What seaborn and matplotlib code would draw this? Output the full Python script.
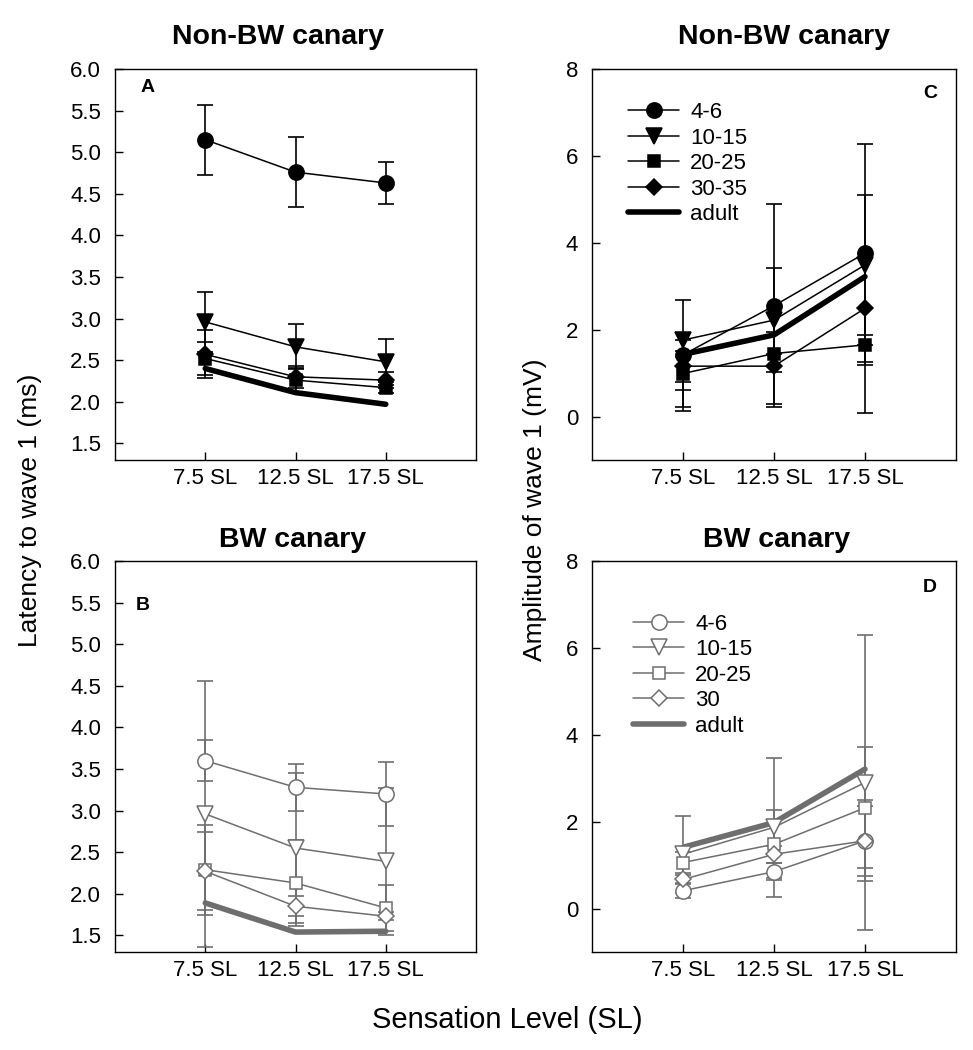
import matplotlib
matplotlib.use("Agg")
import matplotlib.pyplot as plt
import seaborn as sns
import numpy as np

# x positions (sensation level, dB SL)
levels = [7.5, 12.5, 17.5]
level_labels = ["7.5 SL", "12.5 SL", "17.5 SL"]
groups = ["4-6", "10-15", "20-25", "30-35", "adult"]
groups_bw = ["4-6", "10-15", "20-25", "30", "adult"]

# A: latency, non-BW canary (ms)
lat_nonbw = {
    "4-6": [5.15, 4.76, 4.63],
    "10-15": [2.96, 2.66, 2.48],
    "20-25": [2.52, 2.26, 2.17],
    "30-35": [2.57, 2.30, 2.26],
    "adult": [2.40, 2.11, 1.97],
}
lat_nonbw_lo = {"4-6": [0.43, 0.42, 0.25], "10-15": [0.36, 0.27, 0.28],
                "20-25": [0.20, 0.14, 0.07], "30-35": [0.29, 0.13, 0.10]}
lat_nonbw_hi = {"4-6": [0.42, 0.42, 0.25], "10-15": [0.36, 0.27, 0.28],
                "20-25": [0.20, 0.14, 0.07], "30-35": [0.29, 0.13, 0.10]}

# B: latency, BW canary (ms)
lat_bw = {
    "4-6": [3.60, 3.28, 3.20],
    "10-15": [2.96, 2.55, 2.39],
    "20-25": [2.29, 2.13, 1.83],
    "30": [2.27, 1.85, 1.73],
    "adult": [1.89, 1.54, 1.55],
}
lat_bw_lo = {"4-6": [0.25, 0.28, 0.38], "10-15": [1.60, 0.90, 0.88],
             "20-25": [0.54, 0.52, 0.28], "30": [0.47, 0.12, 0.05]}
lat_bw_hi = {"4-6": [0.25, 0.28, 0.38], "10-15": [1.60, 0.90, 0.88],
             "20-25": [0.54, 0.52, 0.28], "30": [0.47, 0.12, 0.05]}

# C: amplitude, non-BW canary (mV)
amp_nonbw = {
    "4-6": [1.42, 2.55, 3.76],
    "10-15": [1.76, 2.22, 3.49],
    "20-25": [0.99, 1.45, 1.65],
    "30-35": [1.16, 1.16, 2.49],
    "adult": [1.43, 1.88, 3.22],
}
amp_nonbw_lo = {"4-6": [1.29, 2.32, 2.51], "10-15": [1.53, 1.19, 1.61],
                "20-25": [0.39, 0.0, 0.46], "30-35": [0.36, 0.86, 2.40]}
amp_nonbw_hi = {"4-6": [1.26, 2.34, 2.51], "10-15": [0.0, 1.19, 1.61],
                "20-25": [0.39, 0.50, 0.0], "30-35": [0.36, 0.0, 0.0]}

# D: amplitude, BW canary (mV)
amp_bw = {
    "4-6": [0.41, 0.85, 1.56],
    "10-15": [1.25, 1.87, 2.90],
    "20-25": [1.06, 1.48, 2.32],
    "30": [0.67, 1.25, 1.56],
    "adult": [1.41, 1.98, 3.21],
}
amp_bw_lo = {"4-6": [0.17, 0.20, 0.80], "10-15": [0.88, 1.60, 3.40],
             "20-25": [0.24, 0.78, 1.39], "30": [0.10, 0.20, 0.93]}
amp_bw_hi = {"4-6": [0.17, 0.20, 0.80], "10-15": [0.88, 1.60, 3.40],
             "20-25": [0.24, 0.78, 1.39], "30": [0.10, 0.20, 0.93]}

sns.set_style("ticks")
plt.rcParams['font.family'] = ['Liberation Sans', 'DejaVu Sans']
plt.rcParams.update({"text.color": "black", "axes.labelcolor": "black",
                     "xtick.color": "black", "ytick.color": "black"})

markers = ["o", "v", "s", "D", None]
msizes = [11, 11, 9, 8, 0]
GRAY = "#6e6e6e"


def draw_panel(ax, data, lo, hi, names, color, filled, legend_pos=None):
    for name in names:
        if name != "adult":
            ax.errorbar(levels, data[name], yerr=[lo[name], hi[name]], fmt="none",
                        ecolor=color, elinewidth=1.2, capsize=5.5, capthick=1.2, zorder=2)
    for name, mk, ms in zip(names, markers, msizes):
        if name == "adult":
            sns.lineplot(x=levels, y=data[name], ax=ax, color=color, linewidth=4,
                         label=name, zorder=3)
        else:
            sns.lineplot(x=levels, y=data[name], ax=ax, color=color, linewidth=1.1,
                         marker=mk, markersize=ms,
                         markerfacecolor=color if filled else "white",
                         markeredgecolor=color, markeredgewidth=1.1,
                         label=name, zorder=4)
    if legend_pos is None:
        if ax.get_legend() is not None:
            ax.get_legend().remove()
    else:
        h, l = ax.get_legend_handles_labels()
        ax.legend(h, l, loc="upper left", bbox_to_anchor=legend_pos, frameon=False,
                  fontsize=16, borderpad=0, borderaxespad=0, handlelength=2.3,
                  handletextpad=0.5, labelspacing=0.2)
    ax.set_xlim(2.5, 22.5)
    ax.set_xticks(levels)
    ax.set_xticklabels(level_labels)
    ax.set_xlabel("")
    ax.set_ylabel("")
    for s in ax.spines.values():
        s.set_visible(True)
        s.set_linewidth(1.0)
        s.set_color("black")
    ax.tick_params(direction="in", length=6, width=1, labelsize=16, top=False, right=False)
    ax.tick_params(axis="y", pad=10)
    ax.tick_params(axis="x", pad=6)


fig = plt.figure(figsize=(9.73, 10.5), dpi=100)
axA = fig.add_axes([0.1182, 0.5619, 0.3710, 0.3724])
axC = fig.add_axes([0.6084, 0.5619, 0.3741, 0.3724])
axB = fig.add_axes([0.1182, 0.0933, 0.3710, 0.3724])
axD = fig.add_axes([0.6084, 0.0933, 0.3741, 0.3724])

draw_panel(axA, lat_nonbw, lat_nonbw_lo, lat_nonbw_hi, groups, "black", True)
draw_panel(axB, lat_bw, lat_bw_lo, lat_bw_hi, groups_bw, GRAY, False)
draw_panel(axC, amp_nonbw, amp_nonbw_lo, amp_nonbw_hi, groups, "black", True,
           legend_pos=(0.099, 0.915))
draw_panel(axD, amp_bw, amp_bw_lo, amp_bw_hi, groups_bw, GRAY, False,
           legend_pos=(0.113, 0.865))

for ax in (axA, axB):
    ax.set_ylim(1.3, 6.0)
    ax.set_yticks(np.arange(1.5, 6.01, 0.5))
    ax.set_yticklabels([f"{v:.1f}" for v in np.arange(1.5, 6.01, 0.5)])
for ax in (axC, axD):
    ax.set_ylim(-1, 8)
    ax.set_yticks([0, 2, 4, 6, 8])

W, H = 973, 1050


def ftext(x, y, s, **kw):
    fig.text(x / W, 1 - y / H, s, ha="center", va="center", **kw)


ftext(278, 37, "Non-BW canary", fontsize=20.5, fontweight="bold")
ftext(784, 37, "Non-BW canary", fontsize=20.5, fontweight="bold")
ftext(293, 540, "BW canary", fontsize=20.5, fontweight="bold")
ftext(777, 540, "BW canary", fontsize=20.5, fontweight="bold")

ftext(148, 87, "A", fontsize=14, fontweight="bold")
ftext(143, 605, "B", fontsize=14, fontweight="bold")
ftext(930, 93, "C", fontsize=14, fontweight="bold")
ftext(930, 587, "D", fontsize=14, fontweight="bold")

ftext(30, 510, "Latency to wave 1 (ms)", fontsize=19, rotation=90)
ftext(535, 510, "Amplitude of wave 1 (mV)", fontsize=19, rotation=90)
ftext(507, 1020, "Sensation Level (SL)", fontsize=21)

fig.savefig("out.png", dpi=100)
